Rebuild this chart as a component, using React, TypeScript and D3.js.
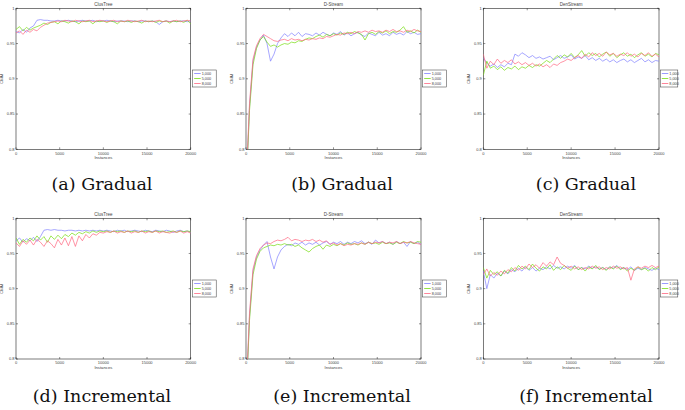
import React from 'react';
import * as d3 from 'd3';

const SERIES_NAMES = ['1,000', '5,000', '8,000'];
const COLORS = ['#8080ff', '#77dd11', '#ff6680'];
const Y_TICKS = [0.8, 0.85, 0.9, 0.95, 1];
const Y_TICK_LABELS = ['0.8', '0.85', '0.9', '0.95', '1'];
const X_TICKS = [0, 5000, 10000, 15000, 20000];
const X_TICK_LABELS = ['0', '5000', '10000', '15000', '20000'];
const STEP = 400; // instances between samples
const TITLES = ['ClusTree', 'D-Stream', 'DenStream', 'ClusTree', 'D-Stream', 'DenStream'];
const CAPTIONS = ['(a) Gradual', '(b) Gradual', '(c) Gradual', '(d) Incremental', '(e) Incremental', '(f) Incremental'];

// (a) ClusTree – Gradual
const clusGradBlue = [0.967,0.965,0.970,0.966,0.972,0.975,0.983,0.984,0.983,0.983,0.982,0.982,0.983,0.982,0.982,0.983,0.982,0.981,0.982,0.983,0.982,0.982,0.983,0.981,0.982,0.982,0.983,0.982,0.981,0.982,0.982,0.982,0.981,0.982,0.982,0.981,0.982,0.982,0.981,0.982,0.981,0.977,0.981,0.982,0.981,0.982,0.981,0.982,0.982,0.981,0.982];
const clusGradGreen = [0.970,0.974,0.968,0.973,0.969,0.972,0.974,0.976,0.979,0.977,0.980,0.981,0.978,0.982,0.981,0.979,0.982,0.981,0.978,0.982,0.981,0.982,0.978,0.982,0.981,0.982,0.980,0.982,0.981,0.978,0.982,0.981,0.982,0.980,0.982,0.981,0.979,0.982,0.981,0.982,0.980,0.982,0.981,0.982,0.979,0.982,0.981,0.982,0.980,0.983,0.978];
const clusGradRed = [0.965,0.968,0.963,0.969,0.966,0.970,0.968,0.973,0.976,0.979,0.980,0.981,0.982,0.981,0.983,0.982,0.981,0.983,0.982,0.981,0.982,0.983,0.981,0.982,0.983,0.982,0.981,0.982,0.983,0.981,0.982,0.981,0.983,0.982,0.981,0.982,0.983,0.981,0.982,0.981,0.982,0.983,0.981,0.982,0.981,0.982,0.983,0.981,0.982,0.983,0.982];

// (b) D-Stream – Gradual
const dsGradBlue = [0.74,0.86,0.925,0.945,0.955,0.962,0.950,0.925,0.935,0.950,0.958,0.964,0.960,0.965,0.961,0.966,0.960,0.964,0.963,0.961,0.965,0.962,0.966,0.963,0.961,0.965,0.963,0.967,0.962,0.965,0.961,0.964,0.966,0.962,0.960,0.965,0.963,0.961,0.966,0.962,0.964,0.961,0.966,0.963,0.965,0.962,0.967,0.964,0.966,0.963,0.964];
const dsGradGreen = [0.74,0.855,0.92,0.943,0.955,0.960,0.952,0.946,0.948,0.945,0.948,0.950,0.949,0.952,0.951,0.954,0.953,0.956,0.958,0.957,0.960,0.962,0.959,0.963,0.961,0.964,0.962,0.965,0.963,0.966,0.964,0.967,0.965,0.963,0.955,0.964,0.966,0.963,0.967,0.965,0.968,0.964,0.967,0.966,0.969,0.974,0.966,0.968,0.965,0.969,0.966];
const dsGradRed = [0.75,0.865,0.928,0.947,0.957,0.963,0.960,0.957,0.954,0.953,0.955,0.956,0.954,0.957,0.955,0.956,0.954,0.956,0.955,0.957,0.956,0.958,0.957,0.960,0.959,0.961,0.963,0.962,0.965,0.964,0.966,0.964,0.967,0.966,0.968,0.966,0.969,0.967,0.968,0.966,0.969,0.967,0.970,0.967,0.968,0.966,0.969,0.967,0.970,0.968,0.967];

// (c) DenStream – Gradual
const denGradBlue = [0.930,0.922,0.918,0.921,0.916,0.920,0.917,0.922,0.920,0.935,0.932,0.937,0.934,0.930,0.933,0.929,0.931,0.928,0.930,0.932,0.927,0.930,0.933,0.929,0.931,0.934,0.928,0.931,0.929,0.933,0.927,0.930,0.926,0.929,0.925,0.928,0.924,0.927,0.923,0.926,0.928,0.924,0.927,0.923,0.926,0.929,0.924,0.927,0.923,0.926,0.925];
const denGradGreen = [0.905,0.925,0.915,0.918,0.913,0.917,0.912,0.916,0.914,0.918,0.913,0.917,0.915,0.919,0.916,0.920,0.918,0.922,0.926,0.923,0.928,0.933,0.929,0.934,0.931,0.936,0.930,0.934,0.940,0.932,0.937,0.933,0.936,0.931,0.935,0.938,0.932,0.936,0.930,0.934,0.937,0.932,0.935,0.930,0.934,0.937,0.932,0.935,0.931,0.936,0.934];
const denGradRed = [0.935,0.915,0.925,0.920,0.928,0.922,0.926,0.923,0.927,0.921,0.924,0.920,0.923,0.919,0.922,0.918,0.921,0.917,0.920,0.916,0.921,0.919,0.923,0.925,0.928,0.926,0.930,0.933,0.929,0.935,0.931,0.937,0.933,0.936,0.932,0.938,0.934,0.936,0.932,0.935,0.933,0.937,0.932,0.935,0.931,0.936,0.933,0.937,0.932,0.935,0.931];

// (d) ClusTree – Incremental
const clusIncBlue = [0.968,0.972,0.966,0.971,0.968,0.973,0.967,0.974,0.983,0.984,0.983,0.984,0.983,0.983,0.982,0.983,0.983,0.982,0.983,0.982,0.983,0.982,0.983,0.982,0.983,0.982,0.983,0.982,0.981,0.983,0.982,0.983,0.981,0.982,0.983,0.982,0.981,0.983,0.982,0.981,0.983,0.982,0.981,0.983,0.982,0.980,0.982,0.983,0.981,0.982,0.980];
const clusIncGreen = [0.972,0.963,0.970,0.966,0.972,0.968,0.975,0.969,0.974,0.966,0.975,0.970,0.976,0.971,0.977,0.974,0.979,0.976,0.980,0.978,0.981,0.979,0.982,0.980,0.982,0.981,0.982,0.980,0.982,0.981,0.982,0.980,0.982,0.981,0.982,0.980,0.982,0.981,0.982,0.980,0.982,0.981,0.982,0.980,0.981,0.982,0.980,0.982,0.981,0.982,0.981];
const clusIncRed = [0.965,0.960,0.968,0.963,0.969,0.962,0.970,0.966,0.960,0.968,0.964,0.958,0.970,0.962,0.972,0.961,0.974,0.960,0.975,0.968,0.977,0.972,0.978,0.976,0.980,0.979,0.981,0.980,0.982,0.979,0.981,0.980,0.982,0.979,0.981,0.980,0.982,0.979,0.981,0.980,0.982,0.979,0.981,0.980,0.979,0.981,0.980,0.982,0.979,0.981,0.979];

// (e) D-Stream – Incremental
const dsIncBlue = [0.74,0.86,0.925,0.945,0.955,0.962,0.967,0.945,0.928,0.945,0.955,0.960,0.963,0.961,0.965,0.963,0.966,0.962,0.965,0.963,0.966,0.962,0.965,0.967,0.963,0.966,0.964,0.967,0.963,0.966,0.964,0.967,0.965,0.968,0.964,0.966,0.963,0.969,0.965,0.967,0.964,0.966,0.963,0.967,0.964,0.966,0.960,0.967,0.964,0.966,0.963];
const dsIncGreen = [0.74,0.855,0.92,0.942,0.953,0.958,0.960,0.962,0.961,0.963,0.962,0.964,0.962,0.963,0.960,0.962,0.958,0.955,0.952,0.957,0.960,0.962,0.956,0.962,0.960,0.963,0.961,0.964,0.962,0.965,0.963,0.964,0.962,0.965,0.963,0.966,0.964,0.965,0.963,0.966,0.964,0.965,0.963,0.966,0.964,0.967,0.965,0.966,0.964,0.967,0.966];
const dsIncRed = [0.75,0.865,0.928,0.947,0.957,0.962,0.965,0.964,0.967,0.969,0.968,0.970,0.973,0.968,0.970,0.969,0.967,0.969,0.968,0.970,0.967,0.969,0.966,0.968,0.963,0.965,0.962,0.964,0.961,0.963,0.962,0.964,0.963,0.965,0.963,0.966,0.964,0.966,0.965,0.967,0.964,0.966,0.965,0.967,0.964,0.966,0.965,0.967,0.965,0.964,0.963];

// (f) DenStream – Incremental
const denIncBlue = [0.925,0.900,0.920,0.915,0.922,0.918,0.925,0.921,0.927,0.924,0.929,0.925,0.931,0.926,0.930,0.925,0.929,0.927,0.931,0.928,0.933,0.929,0.931,0.928,0.932,0.929,0.933,0.927,0.930,0.928,0.932,0.929,0.931,0.928,0.930,0.927,0.931,0.929,0.933,0.928,0.930,0.927,0.931,0.926,0.929,0.927,0.930,0.928,0.926,0.929,0.927];
const denIncGreen = [0.930,0.915,0.926,0.920,0.924,0.918,0.926,0.922,0.930,0.925,0.933,0.928,0.932,0.927,0.935,0.929,0.925,0.931,0.928,0.934,0.926,0.931,0.927,0.933,0.929,0.926,0.932,0.927,0.930,0.925,0.931,0.928,0.933,0.927,0.930,0.926,0.931,0.928,0.932,0.927,0.930,0.925,0.929,0.926,0.931,0.927,0.929,0.925,0.930,0.927,0.931];
const denIncRed = [0.920,0.928,0.918,0.923,0.919,0.925,0.921,0.927,0.924,0.930,0.926,0.932,0.928,0.935,0.930,0.934,0.929,0.937,0.932,0.938,0.934,0.945,0.936,0.933,0.929,0.932,0.928,0.931,0.927,0.930,0.928,0.932,0.929,0.931,0.927,0.930,0.928,0.932,0.929,0.931,0.928,0.930,0.912,0.928,0.931,0.929,0.932,0.930,0.933,0.930,0.932];

const PANEL_DATA = [
  [clusGradBlue, clusGradGreen, clusGradRed],
  [dsGradBlue, dsGradGreen, dsGradRed],
  [denGradBlue, denGradGreen, denGradRed],
  [clusIncBlue, clusIncGreen, clusIncRed],
  [dsIncBlue, dsIncGreen, dsIncRed],
  [denIncBlue, denIncGreen, denIncRed],
];

// layout
const COLS = [
  { left: 16, right: 190.7, legX: 192.7, legW: 23.5, capX: 102 },
  { left: 246, right: 421, legX: 422.7, legW: 24, capX: 342 },
  { left: 483.3, right: 659, legX: 660.3, legW: 17.5, capX: 586 },
];
const ROWS = [
  { top: 8.3, bottom: 149.3, legY: 70, capY: 190 },
  { top: 218.3, bottom: 359, legY: 280, capY: 402 },
];

const SANS = 'Liberation Sans, Arial, sans-serif';
const SERIF = "'DejaVu Serif', serif";
const TXT = '#444';

function Panel({ idx }: { idx: number }) {
  const col = COLS[idx % 3];
  const row = ROWS[Math.floor(idx / 3)];
  const x = d3.scaleLinear().domain([0, 20000]).range([col.left, col.right]);
  const y = d3.scaleLinear().domain([0.8, 1]).range([row.bottom, row.top]);
  const line = d3.line<number>().x((_, i) => x(i * STEP)).y((d) => y(d));
  const clipId = `clip${idx}`;
  const midX = (col.left + col.right) / 2;
  const midY = (row.top + row.bottom) / 2;
  const tl = 2;
  return (
    <g>
      <defs>
        <clipPath id={clipId}>
          <rect x={col.left} y={row.top} width={col.right - col.left} height={row.bottom - row.top} />
        </clipPath>
      </defs>
      <rect x={col.left} y={row.top} width={col.right - col.left} height={row.bottom - row.top} fill="#fff" stroke="#222" strokeWidth={0.6} />
      {X_TICKS.map((t, i) => (
        <g key={'x' + i}>
          <line x1={x(t)} x2={x(t)} y1={row.bottom} y2={row.bottom - tl} stroke="#222" strokeWidth={0.5} />
          <line x1={x(t)} x2={x(t)} y1={row.top} y2={row.top + tl} stroke="#222" strokeWidth={0.5} />
          <text x={x(t)} y={row.bottom + 5.2} fontSize={4} fontFamily={SANS} fill={TXT} textAnchor="middle">{X_TICK_LABELS[i]}</text>
        </g>
      ))}
      {Y_TICKS.map((t, i) => (
        <g key={'y' + i}>
          <line x1={col.left} x2={col.left + tl} y1={y(t)} y2={y(t)} stroke="#222" strokeWidth={0.5} />
          <line x1={col.right} x2={col.right - tl} y1={y(t)} y2={y(t)} stroke="#222" strokeWidth={0.5} />
          <text x={col.left - 1.5} y={y(t) + 1.4} fontSize={4} fontFamily={SANS} fill={TXT} textAnchor="end">{Y_TICK_LABELS[i]}</text>
        </g>
      ))}
      <text x={midX} y={row.top - 2.5} fontSize={4.5} fontFamily={SANS} fill={TXT} textAnchor="middle">{TITLES[idx]}</text>
      <text x={midX} y={row.bottom + 10} fontSize={4.2} fontFamily={SANS} fill={TXT} textAnchor="middle">Instances</text>
      <text transform={`translate(${col.left - 13},${midY}) rotate(-90)`} fontSize={4.2} fontFamily={SANS} fill={TXT} textAnchor="middle">CMM</text>
      <g clipPath={`url(#${clipId})`}>
        {PANEL_DATA[idx].map((s, si) => (
          <path key={si} d={line(s) || ''} fill="none" stroke={COLORS[si]} strokeWidth={0.7} strokeLinejoin="round" />
        ))}
      </g>
      <g>
        <rect x={col.legX} y={row.legY} width={col.legW} height={17} fill="#fff" stroke="#333" strokeWidth={0.5} />
        {SERIES_NAMES.map((n, si) => (
          <g key={n}>
            <line x1={col.legX + 1.5} x2={col.legX + 8} y1={row.legY + 3.5 + si * 5} y2={row.legY + 3.5 + si * 5} stroke={COLORS[si]} strokeWidth={0.8} />
            <text x={col.legX + 9} y={row.legY + 4.9 + si * 5} fontSize={3.8} fontFamily={SANS} fill={TXT}>{n}</text>
          </g>
        ))}
      </g>
      <text x={col.capX} y={row.capY} style={{ fontFamily: SERIF, fontSize: '17.5px', fontWeight: 300 }} fill="#111" textAnchor="middle">{CAPTIONS[idx]}</text>
    </g>
  );
}

export default function App() {
  return (
    <svg width={685} height={410} style={{ position: 'absolute', left: 0, top: 0, background: '#fff' }}>
      <rect x={0} y={0} width={685} height={410} fill="#fff" />
      {[0, 1, 2, 3, 4, 5].map((i) => (
        <Panel key={i} idx={i} />
      ))}
    </svg>
  );
}
